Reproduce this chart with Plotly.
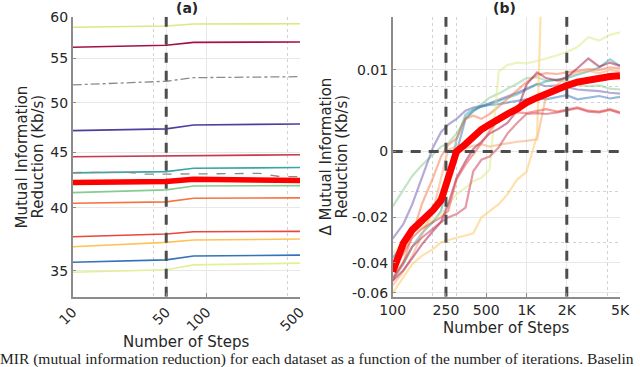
import numpy as np
import plotly.graph_objects as go

# ---------------- panel (a): MIR vs number of steps ----------------
steps_a = [10, 50, 80, 500]
a_lime_top = [58.74, 58.90, 59.15, 59.19]
a_crimson = [56.29, 56.53, 56.89, 56.93]
a_grey_dashdot = [51.96, 52.37, 52.77, 52.88]
a_purple = [47.15, 47.32, 47.72, 47.82]
a_rose = [44.60, 44.67, 44.76, 44.79]
a_teal = [43.09, 43.21, 43.52, 43.58]
a_mean = [42.21, 42.30, 42.51, 42.39]
a_green = [41.32, 41.56, 41.91, 41.94]
a_orange = [40.40, 40.51, 40.83, 40.86]
a_red = [37.61, 37.83, 38.02, 38.05]
a_yorange = [36.82, 37.17, 37.35, 37.43]
a_blue = [35.63, 35.81, 36.11, 36.17]
a_lime_low = [34.88, 35.06, 35.43, 35.56]

steps_grey = [10, 25, 35, 50, 100, 250, 350, 500]
a_grey_dash = [43.12, 43.15, 42.97, 42.97, 43.00, 43.05, 42.76, 42.74]

ticks_a_y = [35, 40, 45, 50, 55, 60]
ticks_a_x = [10, 50, 100, 500]
mark_a = 50
range_a_x = [10, 500]
range_a_y = [33.11, 60.08]

# ---------------- panel (b): delta MIR vs number of steps ----------------
steps_b = [100, 120, 140, 165, 200, 230, 260, 300, 350, 400, 460, 530, 620,
           720, 850, 1000, 1200, 1400, 1700, 2000, 2400, 2900, 3500, 4200, 5000]
b_green = [-0.0167, -0.0118, -0.0074, -0.0042, -0.0008, 0.0006, 0.0010, 0.0022, 0.0040, 0.0049, 0.0058, 0.0066, 0.0071,
           0.0077, 0.0083, 0.0090, 0.0091, 0.0087, 0.0088, 0.0085, 0.0082, 0.0080, 0.0081, 0.0077, 0.0076]
b_purple = [-0.0294, -0.0230, -0.0160, -0.0080, 0.0005, 0.0024, 0.0033, 0.0040, 0.0050, 0.0054, 0.0056, 0.0059, 0.0063,
            0.0067, 0.0072, 0.0077, 0.0083, 0.0080, 0.0081, 0.0079, 0.0076, 0.0075, 0.0074, 0.0072, 0.0071]
b_teal = [-0.051, -0.041, -0.033, -0.027, -0.0220, -0.0180, -0.0080, 0.0015, 0.0045, 0.0052, 0.0055, 0.0058, 0.0062,
          0.0066, 0.0070, 0.0076, 0.0082, 0.0086, 0.0088, 0.0090, 0.0094, 0.0098, 0.0103, 0.0113, 0.0105]
b_blue = [-0.0379, -0.0320, -0.0265, -0.0220, -0.0170, -0.0130, -0.0075, -0.0002, 0.0040, 0.0050, 0.0055, 0.0057, 0.0058,
          0.0060, 0.0062, 0.0064, 0.0066, 0.0064, 0.0067, 0.0069, 0.0064, 0.0066, 0.0068, 0.0065, 0.0067]
b_orange = [-0.052, -0.040, -0.028, -0.016, -0.008, -0.0015, 0.0008, 0.0016, 0.0040, 0.0044, 0.0040, 0.0046, 0.0055,
            0.0065, 0.0075, 0.0085, 0.0094, 0.0096, 0.0095, 0.0097, 0.0099, 0.0101, 0.0100, 0.0103, 0.0102]
b_peach = [-0.055, -0.046, -0.037, -0.028, -0.018, -0.008, 0.0002, 0.0006, 0.0004, 0.0007, 0.0009, 0.0006, 0.0008,
           0.0010, 0.0012, 0.0013, 0.0015, 0.0068, 0.0082, 0.0092, 0.0097, 0.0099, 0.0096, 0.0100, 0.0098]
b_yorange = [-0.060, -0.050, -0.041, -0.037, -0.034, -0.031, -0.030, -0.029, -0.028, -0.027, -0.020, -0.018, -0.016,
             -0.013, -0.0085, -0.0062, 0.0020, 0.040, 0.040, 0.040, 0.040, 0.040, 0.040, 0.040, 0.040]
b_lime = [-0.036, -0.031, -0.027, -0.024, -0.021, -0.019, -0.016, -0.013, -0.011, -0.009, -0.008, -0.0055, 0.0098,
          0.0106, 0.0109, 0.0108, 0.0111, 0.0114, 0.0118, 0.0122, 0.0128, 0.0140, 0.0136, 0.0143, 0.0146]
b_crimson = [-0.052, -0.045, -0.038, -0.032, -0.026, -0.022, -0.016, -0.008, -0.003, 0.0003, 0.0012, 0.0022, 0.0028,
             0.0035, 0.0050, 0.0082, 0.0097, 0.0090, 0.0087, 0.0091, 0.0102, 0.0114, 0.0104, 0.0109, 0.0105]
b_rose = [-0.050, -0.040, -0.033, -0.029, -0.025, -0.022, -0.020, -0.019, -0.017, -0.006, -0.0025, -0.0015, 0.0005,
          0.0022, 0.0035, 0.0046, 0.0047, 0.0046, 0.0048, 0.0050, 0.0053, 0.0049, 0.0048, 0.0051, 0.0047]
b_red = [-0.045, -0.036, -0.029, -0.025, -0.022, -0.020, -0.018, -0.0085, -0.004, -0.001, 0.0010, 0.0025, 0.0040,
         0.0046, 0.0048, 0.0047, 0.0050, 0.0052, 0.0049, 0.0051, 0.0054, 0.0050, 0.0049, 0.0052, 0.0048]
b_mean = [-0.0460, -0.0315, -0.0255, -0.0218, -0.0178, -0.0148, -0.0072, 0.0000, 0.0009, 0.0018, 0.0027, 0.0033, 0.0041,
          0.0046, 0.0052, 0.0060, 0.0066, 0.0071, 0.0078, 0.0081, 0.0085, 0.0088, 0.0090, 0.0092, 0.0093]

ticks_b_y = [0.01, 0, -0.02, -0.04, -0.06]
ticks_b_y_text = ['0.01', '0', '-0.02', '-0.04', '-0.06']
minor_b_y = [0.008, 0.006, -0.012, -0.031]
ticks_b_x = [100, 250, 500, 1000, 2000, 5000]
ticks_b_x_text = ['100', '250', '500', '1K', '2K', '5K']
marks_b = [250, 2000]
range_b_x = [100, 5000]
range_b_y = [-0.0625, 0.016524]

# the right panel's y axis is stretched above zero and squeezed below it
warp_vals = [-0.08, -0.06, -0.04, -0.02, 0.0, 0.01, 0.05]
warp_pos = [-0.02104, -0.01733, -0.01362, -0.00808, 0.0, 0.01, 0.05]


def warp(v):
    return np.interp(np.asarray(v, dtype=float), warp_vals, warp_pos)


FONT = 'DejaVu Sans'
TXT = '#262626'
AXC = '#8c8c8c'
GRID = '#e8e8e8'
MINOR = '#d2d2d2'
DASHC = '#4d4d4d'
dash_line = dict(color=DASHC, width=3, dash='10px,8px')

fig = go.Figure()

lines_a = [
    (a_lime_top, '#d9ea80'), (a_crimson, '#a3104a'), (a_purple, '#4e3f9c'),
    (a_rose, '#c9384f'), (a_teal, '#3aa5a9'), (a_green, '#86cc90'),
    (a_orange, '#f57442'), (a_red, '#e8473d'), (a_yorange, '#fdc35b'),
    (a_blue, '#3473b8'), (a_lime_low, '#e2f096'),
]
for vals, col in lines_a:
    fig.add_trace(go.Scatter(x=steps_a, y=vals, mode='lines',
                             line=dict(color=col, width=1.6), xaxis='x', yaxis='y'))
fig.add_trace(go.Scatter(x=steps_a, y=a_grey_dashdot, mode='lines',
                         line=dict(color='#8a8a8a', width=1.3, dash='dashdot'), xaxis='x', yaxis='y'))
fig.add_trace(go.Scatter(x=steps_grey, y=a_grey_dash, mode='lines',
                         line=dict(color='#8a8a8a', width=1.3, dash='dash'), xaxis='x', yaxis='y'))
# reference line at 50 steps
fig.add_trace(go.Scatter(x=[mark_a, mark_a], y=range_a_y, mode='lines', line=dash_line,
                         xaxis='x', yaxis='y'))
fig.add_trace(go.Scatter(x=steps_a, y=a_mean, mode='lines',
                         line=dict(color='#ff0000', width=5.5), xaxis='x', yaxis='y'))

lines_b = [
    (b_green, '#86cc90'), (b_purple, '#6a5aad'), (b_teal, '#3aa5a9'),
    (b_blue, '#3473b8'), (b_orange, '#f57442'), (b_peach, '#f9a06a'),
    (b_yorange, '#fdc35b'), (b_lime, '#d9ea80'), (b_crimson, '#a3104a'),
    (b_rose, '#c9384f'), (b_red, '#e8473d'),
]
for vals, col in lines_b:
    fig.add_trace(go.Scatter(x=steps_b, y=warp(vals), mode='lines', opacity=0.5,
                             line=dict(color=col, width=2.2), xaxis='x2', yaxis='y2'))
# reference lines at 250 / 2K steps and at zero
for s in marks_b:
    fig.add_trace(go.Scatter(x=[s, s], y=warp(range_b_y), mode='lines', line=dash_line,
                             xaxis='x2', yaxis='y2'))
fig.add_trace(go.Scatter(x=range_b_x, y=[0, 0], mode='lines', line=dash_line,
                         xaxis='x2', yaxis='y2'))
fig.add_trace(go.Scatter(x=steps_b, y=warp(b_mean), mode='lines',
                         line=dict(color='#ff0000', width=7), xaxis='x2', yaxis='y2'))

common_axis = dict(showline=True, linecolor=AXC, linewidth=1.5, ticks='inside', ticklen=4,
                   tickcolor=AXC, showgrid=True, gridcolor=GRID, gridwidth=1, zeroline=False,
                   automargin=False, tickfont=dict(family=FONT, size=14, color=TXT))

fig.update_layout(
    width=640, height=367, margin=dict(l=0, r=0, t=0, b=0, autoexpand=False),
    paper_bgcolor='white', plot_bgcolor='white', showlegend=False,
    font=dict(family=FONT, size=14, color=TXT),
    xaxis=dict(common_axis, type='log', domain=[0.1136, 0.4688], range=list(np.log10(range_a_x)),
               tickvals=ticks_a_x, ticktext=[str(t) for t in ticks_a_x], tickangle=-45, anchor='y',
               minor=dict(tickvals=[40, 400], showgrid=True, griddash='dot', gridcolor=MINOR, ticks='')),
    yaxis=dict(common_axis, type='log', domain=[0.1916, 0.9545], range=list(np.log10(range_a_y)),
               tickvals=ticks_a_y, ticktext=[str(t) for t in ticks_a_y], anchor='x'),
    xaxis2=dict(common_axis, type='log', domain=[0.6136, 0.9688], range=list(np.log10(range_b_x)),
                tickvals=ticks_b_x, ticktext=ticks_b_x_text, tickangle=0, anchor='y2',
                minor=dict(tickvals=[200, 300, 4000], showgrid=True, griddash='dot', gridcolor=MINOR, ticks='')),
    yaxis2=dict(common_axis, domain=[0.1916, 0.9545], range=list(warp(range_b_y)),
                tickvals=list(warp(ticks_b_y)), ticktext=ticks_b_y_text, anchor='x2',
                minor=dict(tickvals=list(warp(minor_b_y)), showgrid=True, griddash='dot',
                           gridcolor=MINOR, ticks='')),
)

title_font = dict(family=FONT, size=15, color=TXT)
annots = [
    dict(text='<b>(a)</b>', x=0.2917, y=0.9785, font=dict(family=FONT, size=14, color=TXT)),
    dict(text='<b>(b)</b>', x=0.789, y=0.9785, font=dict(family=FONT, size=14, color=TXT)),
    dict(text='Number of Steps', x=0.2914, y=0.0681, font=title_font),
    dict(text='Number of Steps', x=0.7906, y=0.1076, font=title_font),
    dict(text='Mutual Information', x=0.0359, y=0.5736, textangle=-90, font=title_font),
    dict(text='Reduction (Kb/s)', x=0.0609, y=0.5736, textangle=-90, font=title_font),
    dict(text='Δ Mutual Information', x=0.5109, y=0.5736, textangle=-90, font=title_font),
    dict(text='Reduction (Kb/s)', x=0.5344, y=0.5736, textangle=-90, font=title_font),
]
for a in annots:
    fig.add_annotation(xref='paper', yref='paper', xanchor='center', yanchor='middle',
                       showarrow=False, **a)

fig.add_annotation(xref='paper', yref='paper', x=-0.003, y=0.0215, xanchor='left', yanchor='middle',
                   showarrow=False,
                   text='MIR (mutual information reduction) for each dataset as a function of the number of iterations. Baselin',
                   font=dict(family='Liberation Serif', size=15.5, color='#222222'))

# drop the browser's default 8px page margin so the figure sits at the window corner
fig.write_html("out.html", config={'displayModeBar': False},
               post_script="document.body.style.margin='0px';")
